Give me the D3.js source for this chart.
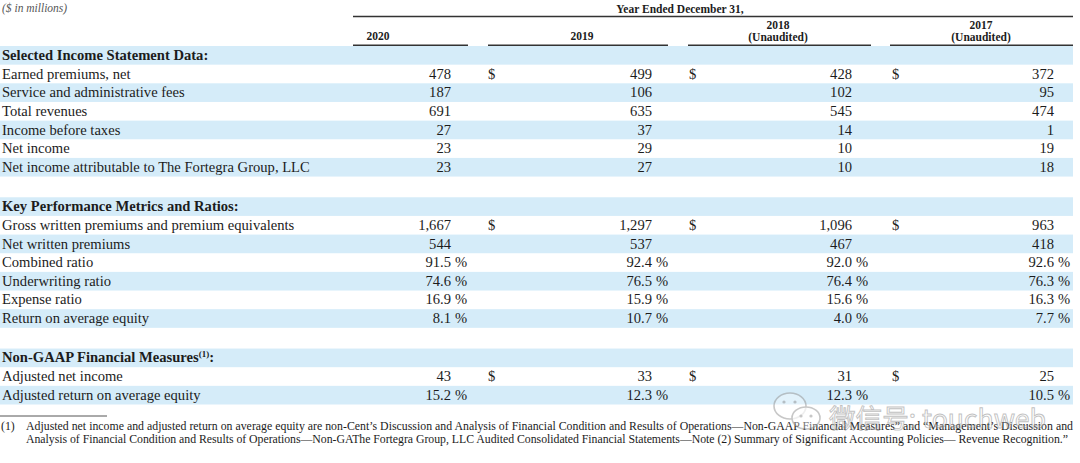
<!DOCTYPE html>
<html>
<head>
<meta charset="utf-8">
<script src="https://cdn.jsdelivr.net/npm/d3@7"></script>
<style>
  html, body { margin: 0; padding: 0; background: #fff; }
  svg { display: block; }
</style>
</head>
<body>
<svg id="chart" width="1080" height="463"></svg>
<script>
// ---------------- DATA ----------------
const years = ["2020", "2019", "2018", "2017"];
const yearSubLabels = ["", "", "(Unaudited)", "(Unaudited)"];

const rowLabels = [
  "Selected Income Statement Data:",
  "Earned premiums, net",
  "Service and administrative fees",
  "Total revenues",
  "Income before taxes",
  "Net income",
  "Net income attributable to The Fortegra Group, LLC",
  "",
  "Key Performance Metrics and Ratios:",
  "Gross written premiums and premium equivalents",
  "Net written premiums",
  "Combined ratio",
  "Underwriting ratio",
  "Expense ratio",
  "Return on average equity",
  "",
  "Non-GAAP Financial Measures",
  "Adjusted net income",
  "Adjusted return on average equity"
];
// row kind: "section", "gap", "money", "pct"
const rowKinds = [
  "section", "money", "money", "money", "money", "money", "money", "gap",
  "section", "money", "money", "pct", "pct", "pct", "pct", "gap",
  "section", "money", "pct"
];
// rows showing the "$" sign
const dollarRows = [1, 9, 17];

const values2020 = [null, 478, 187, 691, 27, 23, 23, null, null, 1667, 544, 91.5, 74.6, 16.9, 8.1, null, null, 43, 15.2];
const values2019 = [null, 499, 106, 635, 37, 29, 27, null, null, 1297, 537, 92.4, 76.5, 15.9, 10.7, null, null, 33, 12.3];
const values2018 = [null, 428, 102, 545, 14, 10, 10, null, null, 1096, 467, 92.0, 76.4, 15.6, 4.0, null, null, 31, 12.3];
const values2017 = [null, 372, 95, 474, 1, 19, 18, null, null, 963, 418, 92.6, 76.3, 16.3, 7.7, null, null, 25, 10.5];

const unitNote = "($ in millions)";
const periodTitle = "Year Ended December 31,";
const footnoteMark = "(1)";
const footnoteLines = [
  "Adjusted net income and adjusted return on average equity are non-Cent\u2019s Discussion and Analysis of Financial Condition and Results of Operations\u2014Non-GAAP Financial Measures\u201D and \u201CManagement\u2019s Discussion and",
  "Analysis of Financial Condition and Results of Operations\u2014Non-GAThe Fortegra Group, LLC Audited Consolidated Financial Statements\u2014Note (2) Summary of Significant Accounting Policies\u2014 Revenue Recognition.\u201D"
];
const watermarkText = "\u5FAE\u4FE1\u53F7: touchweb";

// ---------------- LAYOUT ----------------
const svg = d3.select("#chart");
const serif = "'Liberation Serif', 'Times New Roman', serif";
const blue = "#d5ecf9";
const ink = "#1c1c1c";

const valuesByYear = [values2020, values2019, values2018, values2017];

// row slots: gap rows a bit taller
const slotSize = rowKinds.map(k => k === "gap" ? 1.11 : 1);
const slotStart = [];
let acc = 0;
slotSize.forEach(s => { slotStart.push(acc); acc += s; });
const y = d3.scaleLinear().domain([0, acc]).range([46, 404.5]);

// column scales
const valueRight = d3.scaleOrdinal().domain(years).range([451, 652, 852, 1054]);
const dollarX = d3.scaleOrdinal().domain(years).range([353, 488, 689, 892]);
const headCenter = d3.scaleOrdinal().domain(years).range([378, 582, 778, 981]);
const ruleSpan = d3.scaleOrdinal().domain(years).range([[353, 468], [488, 668], [688, 871], [890, 1073]]);

const fmtMoney = d3.format(",");
const fmtPct = d3.format(".1f");

// ---------------- BANDS ----------------
const rows = rowLabels.map((label, i) => ({
  i, label, kind: rowKinds[i],
  top: y(slotStart[i]), h: y(slotStart[i] + slotSize[i]) - y(slotStart[i])
}));

svg.append("g").selectAll("rect")
  .data(rows.filter(r => r.i % 2 === 0 && r.kind !== "gap"))
  .join("rect")
  .attr("x", 0).attr("y", d => d.top)
  .attr("width", 1073).attr("height", d => d.h)
  .attr("fill", blue);

// ---------------- HEADER ----------------
svg.append("text")
  .attr("x", 2).attr("y", 12)
  .attr("font-family", serif).attr("font-style", "italic")
  .attr("font-size", 11.5).attr("fill", "#555")
  .text(unitNote);

svg.append("text")
  .attr("x", 680).attr("y", 12.5).attr("text-anchor", "middle")
  .attr("font-family", serif).attr("font-weight", "bold")
  .attr("font-size", 11.5).attr("fill", ink)
  .text(periodTitle);

svg.append("line")
  .attr("x1", 353).attr("x2", 1073).attr("y1", 16.5).attr("y2", 16.5)
  .attr("stroke", "#333").attr("stroke-width", 1.5);

const head = svg.append("g").selectAll("g").data(years).join("g");
head.append("text")
  .attr("x", d => headCenter(d))
  .attr("y", (d, i) => yearSubLabels[i] ? 29 : 40)
  .attr("text-anchor", "middle")
  .attr("font-family", serif).attr("font-weight", "bold")
  .attr("font-size", 11.5).attr("fill", ink)
  .text(d => d);
head.append("text")
  .attr("x", d => headCenter(d)).attr("y", 40.5)
  .attr("text-anchor", "middle")
  .attr("font-family", serif).attr("font-weight", "bold")
  .attr("font-size", 11.5).attr("fill", ink)
  .text((d, i) => yearSubLabels[i]);
head.append("line")
  .attr("x1", d => ruleSpan(d)[0]).attr("x2", d => ruleSpan(d)[1])
  .attr("y1", 45.2).attr("y2", 45.2)
  .attr("stroke", "#333").attr("stroke-width", 1.5);

// ---------------- ROW LABELS ----------------
const labelG = svg.append("g");
rows.filter(r => r.kind !== "gap").forEach(r => {
  const t = labelG.append("text")
    .attr("x", 2).attr("y", r.top + r.h / 2 + 4.6)
    .attr("font-family", serif)
    .attr("font-size", 14.6)
    .attr("font-weight", r.kind === "section" ? "bold" : "normal")
    .attr("fill", ink)
    .text(r.label);
  if (r.i === 16) {
    t.append("tspan").attr("font-size", 9).attr("dy", -5).text("(1)");
    t.append("tspan").attr("dy", 5).text(":");
  }
});

// ---------------- VALUES ----------------
const valG = svg.append("g")
  .attr("font-family", serif).attr("font-size", 14.6).attr("fill", ink);

years.forEach((yr, c) => {
  const vals = valuesByYear[c];
  rows.forEach(r => {
    const v = vals[r.i];
    if (v == null) return;
    const base = r.top + r.h / 2 + 4.6;
    valG.append("text")
      .attr("x", valueRight(yr)).attr("y", base)
      .attr("text-anchor", "end")
      .text(r.kind === "pct" ? fmtPct(v) : fmtMoney(v));
    if (r.kind === "pct") {
      valG.append("text")
        .attr("x", valueRight(yr) + 4).attr("y", base)
        .text("%");
    }
    if (dollarRows.includes(r.i) && c > 0) {
      valG.append("text")
        .attr("x", dollarX(yr)).attr("y", base)
        .text("$");
    }
  });
});

// ---------------- FOOTNOTE ----------------
svg.append("line")
  .attr("x1", 0).attr("x2", 107).attr("y1", 416).attr("y2", 416)
  .attr("stroke", "#555").attr("stroke-width", 1);

svg.append("text")
  .attr("x", 1).attr("y", 429.5)
  .attr("font-family", serif).attr("font-size", 11.8).attr("fill", ink)
  .text(footnoteMark);

const footEnds = [1073, 1068];
svg.append("g").selectAll("text").data(footnoteLines).join("text")
  .attr("x", 26).attr("y", (d, i) => 429.5 + i * 13.3)
  .attr("font-family", serif).attr("font-size", 11.8).attr("fill", ink)
  .attr("textLength", (d, i) => footEnds[i] - 26)
  .attr("lengthAdjust", "spacing")
  .text(d => d);

// ---------------- WATERMARK ----------------
const wm = svg.append("g").attr("opacity", 0.55);
// wechat-like icon: two speech bubbles
wm.append("ellipse").attr("cx", 790).attr("cy", 406).attr("rx", 16).attr("ry", 13)
  .attr("fill", "rgba(255,255,255,0.6)").attr("stroke", "#9a9a9a").attr("stroke-width", 1.6);
wm.append("ellipse").attr("cx", 806).attr("cy", 418).attr("rx", 14).attr("ry", 11)
  .attr("fill", "rgba(255,255,255,0.7)").attr("stroke", "#9a9a9a").attr("stroke-width", 1.6);
[[784, 402], [795, 402], [801, 416], [811, 416]].forEach(p => {
  wm.append("circle").attr("cx", p[0]).attr("cy", p[1]).attr("r", 1.6).attr("fill", "#9a9a9a");
});
wm.append("text")
  .attr("x", 829).attr("y", 428)
  .attr("font-family", "'Noto Sans CJK SC', 'Noto Sans', sans-serif")
  .attr("font-size", 26)
  .attr("textLength", 217)
  .attr("lengthAdjust", "spacingAndGlyphs")
  .attr("fill", "rgba(255,255,255,0.5)")
  .attr("stroke", "#8f8f8f").attr("stroke-width", 0.9)
  .text(watermarkText);
</script>
</body>
</html>
